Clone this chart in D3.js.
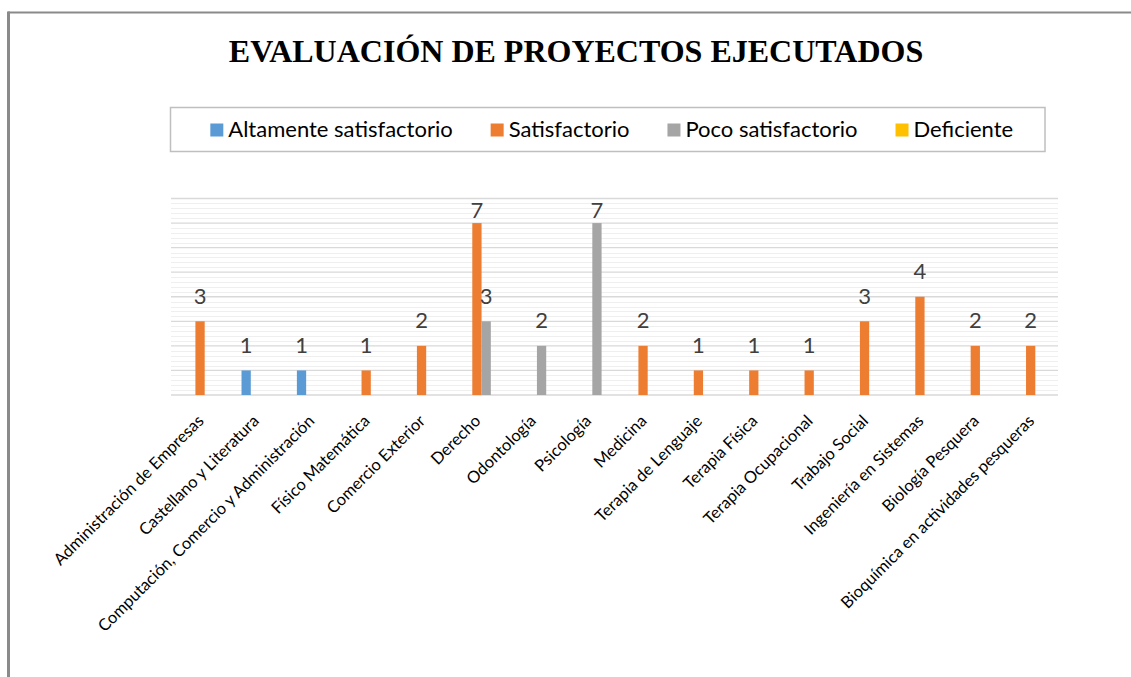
<!DOCTYPE html>
<html>
<head>
<meta charset="utf-8">
<script src="https://cdn.jsdelivr.net/npm/d3@7"></script>
<style>
  html, body { margin: 0; padding: 0; background: #ffffff; }
  svg { display: block; }
</style>
</head>
<body>
<svg id="chart" width="1131" height="677"></svg>
<script>
// Carreras evaluadas
const categories = [
  "Administración de Empresas",
  "Castellano y Literatura",
  "Computación, Comercio y Administración",
  "Físico Matemática",
  "Comercio Exterior",
  "Derecho",
  "Odontología",
  "Psicología",
  "Medicina",
  "Terapia de Lenguaje",
  "Terapia Física",
  "Terapia Ocupacional",
  "Trabajo Social",
  "Ingeniería en Sistemas",
  "Biología Pesquera",
  "Bioquímica en actividades pesqueras"
];

// Número de proyectos por calificación
const altamenteSatisfactorio = [0, 1, 1, 0, 0, 0, 0, 0, 0, 0, 0, 0, 0, 0, 0, 0];
const satisfactorio          = [3, 0, 0, 1, 2, 7, 0, 0, 2, 1, 1, 1, 3, 4, 2, 2];
const pocoSatisfactorio      = [0, 0, 0, 0, 0, 3, 2, 7, 0, 0, 0, 0, 0, 0, 0, 0];
const deficiente             = [0, 0, 0, 0, 0, 0, 0, 0, 0, 0, 0, 0, 0, 0, 0, 0];

const seriesNames  = ["Altamente satisfactorio", "Satisfactorio", "Poco satisfactorio", "Deficiente"];
const seriesColors = ["#5b9bd5", "#ed7d31", "#a5a5a5", "#ffc000"];
const seriesValues = [altamenteSatisfactorio, satisfactorio, pocoSatisfactorio, deficiente];

const yMax = 8;
const majorStep = 1;
const minorStep = 0.2;

const chartTitle = "EVALUACIÓN DE PROYECTOS EJECUTADOS";

const svg = d3.select("#chart");
const W = 1131, H = 677;

// outer frame (only the top and left edges fall inside the view)
svg.append("line").attr("x1", 8).attr("x2", W).attr("y1", 12.5).attr("y2", 12.5)
  .attr("stroke", "#8a8a8a").attr("stroke-width", 2);
svg.append("line").attr("x1", 8.5).attr("x2", 8.5).attr("y1", 11.5).attr("y2", H)
  .attr("stroke", "#8a8a8a").attr("stroke-width", 3);

// title
svg.append("text")
  .attr("x", 576).attr("y", 62)
  .attr("text-anchor", "middle")
  .attr("font-family", "'Liberation Serif', 'Times New Roman', serif")
  .attr("font-weight", "bold")
  .attr("font-size", 32)
  .attr("fill", "#000")
  .text(chartTitle);

// plot area (gridlines) and category band range
const plot = { left: 171, right: 1058, top: 198.5, bottom: 395 };
const bandRange = [177, 1063];

const x0 = d3.scaleBand()
  .domain(categories)
  .range(bandRange)
  .paddingInner(0.33)
  .paddingOuter(0.165);

const x1 = d3.scaleBand()
  .domain(d3.range(seriesNames.length))
  .range([0, x0.bandwidth()]);

const y = d3.scaleLinear().domain([0, yMax]).range([plot.bottom, plot.top]);

// minor gridlines
const minorTicks = d3.range(0, yMax + 1e-9, minorStep)
  .filter(v => Math.abs(v / majorStep - Math.round(v / majorStep)) > 1e-6);
svg.append("g").selectAll("line").data(minorTicks).join("line")
  .attr("x1", plot.left).attr("x2", plot.right)
  .attr("y1", d => Math.round(y(d)) + 0.5).attr("y2", d => Math.round(y(d)) + 0.5)
  .attr("stroke", "#efefef").attr("stroke-width", 1);

// major gridlines
const majorTicks = d3.range(0, yMax + 1e-9, majorStep);
svg.append("g").selectAll("line").data(majorTicks).join("line")
  .attr("x1", plot.left).attr("x2", plot.right)
  .attr("y1", d => y(d)).attr("y2", d => y(d))
  .attr("stroke", "#d9d9d9").attr("stroke-width", 1.3);

// bars
const points = [];
categories.forEach((c, i) => {
  seriesValues.forEach((vals, s) => {
    points.push({ cat: c, s, v: vals[i] });
  });
});
const nonZero = points.filter(p => p.v > 0);

svg.append("g").selectAll("rect").data(nonZero).join("rect")
  .attr("x", d => x0(d.cat) + x1(d.s))
  .attr("y", d => y(d.v))
  .attr("width", x1.bandwidth())
  .attr("height", d => y(0) - y(d.v))
  .attr("fill", d => seriesColors[d.s]);

// value labels
const labelFont = "Lato, 'Carlito', Calibri, sans-serif";
svg.append("g").selectAll("text").data(nonZero).join("text")
  .attr("x", d => x0(d.cat) + x1(d.s) + x1.bandwidth() / 2)
  .attr("y", d => Math.max(y(d.v) - 17.5, 218))
  .attr("text-anchor", "middle")
  .attr("font-family", labelFont)
  .attr("font-size", 22)
  .attr("fill", "#404040")
  .text(d => d.v);

// category labels, rotated
svg.append("g").selectAll("text").data(categories).join("text")
  .attr("transform", d => `translate(${x0(d) + x0.bandwidth() / 2},${422}) rotate(-45)`)
  .attr("text-anchor", "end")
  .attr("font-family", labelFont)
  .attr("font-size", 16.5)
  .attr("fill", "#000")
  .text(d => d);

// legend
const legendBox = { x: 170.5, y: 107.5, w: 874.5, h: 44 };
svg.append("rect")
  .attr("x", legendBox.x).attr("y", legendBox.y)
  .attr("width", legendBox.w).attr("height", legendBox.h)
  .attr("fill", "#fff").attr("stroke", "#bfbfbf").attr("stroke-width", 1.5);

const legend = svg.append("g");
const items = legend.selectAll("g").data(seriesNames).join("g");
items.append("rect")
  .attr("width", 13).attr("height", 13)
  .attr("y", -13)
  .attr("fill", (d, i) => seriesColors[i]);
items.append("text")
  .attr("x", 18).attr("y", 0)
  .attr("font-family", labelFont)
  .attr("font-size", 22)
  .attr("fill", "#000")
  .text(d => d);

const itemGap = 38;
let cursor = 0;
const offsets = [];
items.each(function () {
  const g = d3.select(this);
  const w = 18 + g.select("text").node().getComputedTextLength();
  offsets.push(cursor);
  cursor += w + itemGap;
});
const total = cursor - itemGap;
const startX = legendBox.x + legendBox.w / 2 - total / 2 + 4;
items.attr("transform", (d, i) => `translate(${startX + offsets[i]},${136.5})`);
</script>
</body>
</html>
